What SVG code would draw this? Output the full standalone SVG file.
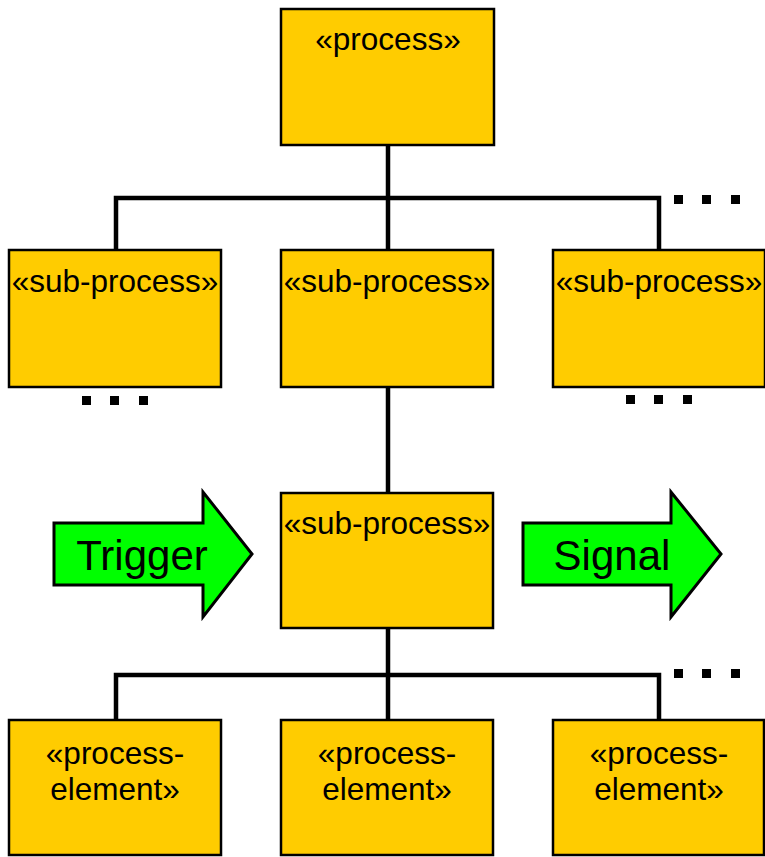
<svg xmlns="http://www.w3.org/2000/svg" width="765" height="857" viewBox="0 0 765 857">
<style>
.box{fill:#FFCC00;stroke:#000;stroke-width:2.5}
.lbl{font-family:"Liberation Sans",Arial,sans-serif;font-size:31.5px;fill:#000;text-anchor:middle}
.big{font-family:"Liberation Sans",Arial,sans-serif;font-size:42px;fill:#000;text-anchor:middle}
.arrow{fill:#00FF00;stroke:#000;stroke-width:3;stroke-linejoin:miter}
.conn{fill:none;stroke:#000;stroke-width:4.5}
.dot{fill:#000}
</style>
<rect width="765" height="857" fill="#fff"/>
<g id="connectors">
<path class="conn" d="M388,145 V250 M116,250 V198 H659 V250"/>
<path class="conn" d="M388,387 V493"/>
<path class="conn" d="M388,628 V720 M116,720 V675 H659 V720"/>
</g>
<g id="ellipses">
<rect class="dot" x="674" y="195" width="9" height="9"/>
<rect class="dot" x="702" y="195" width="9" height="9"/>
<rect class="dot" x="731" y="195" width="9" height="9"/>
<rect class="dot" x="82" y="396" width="9" height="9"/>
<rect class="dot" x="110" y="396" width="9" height="9"/>
<rect class="dot" x="139" y="396" width="9" height="9"/>
<rect class="dot" x="626" y="395" width="9" height="9"/>
<rect class="dot" x="654" y="395" width="9" height="9"/>
<rect class="dot" x="683" y="395" width="9" height="9"/>
<rect class="dot" x="674" y="669" width="9" height="9"/>
<rect class="dot" x="702" y="669" width="9" height="9"/>
<rect class="dot" x="731" y="669" width="9" height="9"/>
</g>
<g id="process">
<rect class="box" x="281" y="9" width="213" height="136"/>
<text class="lbl" x="388" y="50">«process»</text>
</g>
<g id="sub-process-left">
<rect class="box" x="9" y="250" width="212" height="137"/>
<text class="lbl" x="115" y="292">«sub-process»</text>
</g>
<g id="sub-process-mid">
<rect class="box" x="281" y="250" width="212" height="137"/>
<text class="lbl" x="387" y="292">«sub-process»</text>
</g>
<g id="sub-process-right">
<rect class="box" x="553" y="250" width="212" height="137"/>
<text class="lbl" x="659" y="292">«sub-process»</text>
</g>
<g id="sub-process-center">
<rect class="box" x="281" y="493" width="212" height="135"/>
<text class="lbl" x="387" y="534">«sub-process»</text>
</g>
<g id="trigger">
<polygon class="arrow" points="54,523 203,523 203,492 252,554 203,617 203,585 54,585"/>
<text class="big" x="142" y="570">Trigger</text>
</g>
<g id="signal">
<polygon class="arrow" points="523,523 671,523 671,492 721,554 671,617 671,585 523,585"/>
<text class="big" x="612" y="570">Signal</text>
</g>
<g id="process-element-left">
<rect class="box" x="9" y="720" width="212" height="135"/>
<text class="lbl" x="115" y="764">«process-</text>
<text class="lbl" x="115" y="800">element»</text>
</g>
<g id="process-element-mid">
<rect class="box" x="281" y="720" width="212" height="135"/>
<text class="lbl" x="387" y="764">«process-</text>
<text class="lbl" x="387" y="800">element»</text>
</g>
<g id="process-element-right">
<rect class="box" x="553" y="720" width="211" height="135"/>
<text class="lbl" x="659" y="764">«process-</text>
<text class="lbl" x="659" y="800">element»</text>
</g>
</svg>
